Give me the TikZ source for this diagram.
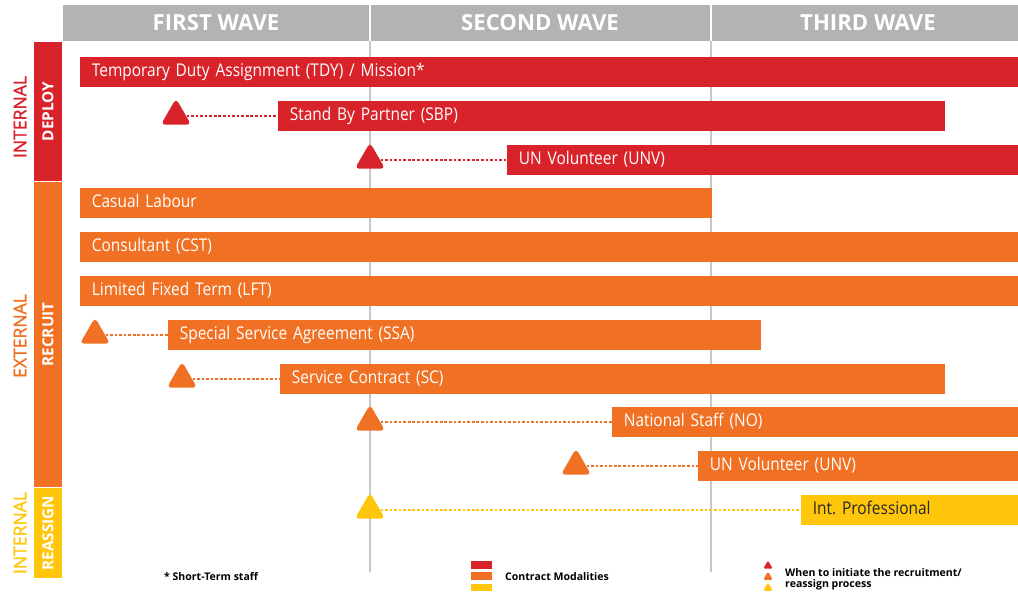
\documentclass[tikz,border=0pt]{standalone}
\usepackage{fontspec}
\setmainfont{Open Sans}
\newfontfamily\barfont[FakeStretch=0.88]{Open Sans}
\newfontfamily\outerfont[FakeBold=1.5]{Open Sans}
\newcommand\barfontsel{\barfont\fontsize{10}{12}\selectfont}
\usetikzlibrary{shapes.geometric}
\definecolor{cred}{HTML}{D8232A}
\definecolor{corange}{HTML}{F07124}
\definecolor{cyellow}{HTML}{FFC60B}
\definecolor{cgrey}{HTML}{B3B3B3}
\definecolor{cline}{HTML}{C8C8C8}

\begin{document}
\begin{tikzpicture}[x=0.02cm, y=-0.02cm,
    bar/.style={fill=#1, anchor=west, minimum height=0.6cm, inner xsep=0.23cm, inner ysep=0pt,
      align=left, text=white, text height=7.3pt, text depth=2.1pt, font=\barfontsel},
    tri/.style={regular polygon, regular polygon sides=3, fill=#1, rounded corners=2.5pt,
      minimum size=0.7cm, inner sep=0pt},
    dots/.style={#1, line width=1.1pt, dash pattern=on 1.5pt off 1.1pt},
    wave/.style={text=white, font=\bfseries\fontsize{12.6}{14}\selectfont},
    side/.style={fill=#1, rotate=90, minimum height=0.56cm, inner sep=0pt, text=white,
      font=\bfseries\fontsize{8.7}{10}\selectfont},
    outer/.style={rotate=90, text=#1, font=\outerfont\fontsize{10}{12}\selectfont},
    legend/.style={anchor=west, align=left, font=\bfseries\fontsize{6}{6.5}\selectfont}]
  \useasboundingbox (0,0) rectangle (1018,594);

  % header
  \fill[cgrey] (63,5) rectangle (1018,41);
  \draw[white, line width=1.2pt] (370,5) -- (370,41) (711,5) -- (711,41);
  \node[wave] (W1) at (216,23) {FIRST WAVE};
  \node[wave] (W2) at (540,23) {SECOND WAVE};
  \node[wave] (W3) at (868,23) {THIRD WAVE};
  \draw[cline, line width=0.6pt] (370,41) -- (370,572) (711,41) -- (711,572);

  % left side
  \node[side=cred, minimum width=2.78cm] (DEP) at (48,111.5) {DEPLOY};
  \node[side=corange, minimum width=6.1cm] (REC) at (48,334.5) {RECRUIT};
  \node[side=cyellow, minimum width=1.8cm] (REA) at (48,533) {REASSIGN};
  \node[outer=cred] (I1) at (20,117) {INTERNAL};
  \node[outer=corange] (EX) at (20,336) {EXTERNAL};
  \node[outer=cyellow] (I2) at (20,533) {INTERNAL};

  % contract modalities
  \node[bar=cred, text width=18.32cm] (TDY) at (80,72) {Temporary Duty Assignment (TDY) / Mission*};
  \node[bar=cred, text width=12.88cm] (SBP) at (278,116) {Stand By Partner (SBP)};
  \node[bar=cred, text width=9.78cm] (UNVD) at (507,160) {UN Volunteer (UNV)};
  \node[bar=corange, text width=12.18cm] (CL) at (80,203) {Casual Labour};
  \node[bar=corange, text width=18.32cm] (CST) at (80,247) {Consultant (CST)};
  \node[bar=corange, text width=18.32cm] (LFT) at (80,291) {Limited Fixed Term (LFT)};
  \node[bar=corange, text width=11.40cm] (SSA) at (168,335) {Special Service Agreement (SSA)};
  \node[bar=corange, text width=12.84cm] (SC) at (280,379) {Service Contract (SC)};
  \node[bar=corange, text width=7.68cm] (NO) at (612,422) {National Staff (NO)};
  \node[bar=corange, text width=5.96cm] (UNVR) at (698,466) {UN Volunteer (UNV)};
  \node[bar=cyellow, text width=3.90cm, text=black!85] (IP) at (801,510) {Int.\ Professional};

  % when to start
  \node[tri=cred] (T1) at (176,116) {};
  \node[tri=cred] (T2) at (370,160) {};
  \node[tri=corange] (T3) at (95,335) {};
  \node[tri=corange] (T4) at (182,379) {};
  \node[tri=corange] (T5) at (370,422) {};
  \node[tri=corange] (T6) at (576,466) {};
  \node[tri=cyellow] (T7) at (370,510) {};
  \draw[dots=cred] (T1) -- (SBP);
  \draw[dots=cred] (T2) -- (UNVD);
  \draw[dots=corange] (T3) -- (SSA);
  \draw[dots=corange] (T4) -- (SC);
  \draw[dots=corange] (T5) -- (NO);
  \draw[dots=corange] (T6) -- (UNVR);
  \draw[dots=cyellow] (T7) -- (IP);

  % legend
  \node[legend] (ST) at (158,577) {* Short-Term staff};
  \node[fill=cred, minimum width=0.42cm, minimum height=0.16cm, inner sep=0pt] (L1) at (481,565) {};
  \node[fill=corange, minimum width=0.42cm, minimum height=0.16cm, inner sep=0pt] (L2) at (481,576) {};
  \node[fill=cyellow, minimum width=0.42cm, minimum height=0.16cm, inner sep=0pt] (L3) at (481,587.5) {};
  \node[legend] (CM) at (499,577) {Contract Modalities};
  \node[tri=cred, minimum size=0.22cm, rounded corners=0.8pt] (LT1) at (768,566) {};
  \node[tri=corange, minimum size=0.22cm, rounded corners=0.8pt] (LT2) at (768,577) {};
  \node[tri=cyellow, minimum size=0.22cm, rounded corners=0.8pt] (LT3) at (768,588) {};
  \node[legend] (WT) at (779,579) {When to initiate the recruitment/\\reassign process};
\end{tikzpicture}
\end{document}
